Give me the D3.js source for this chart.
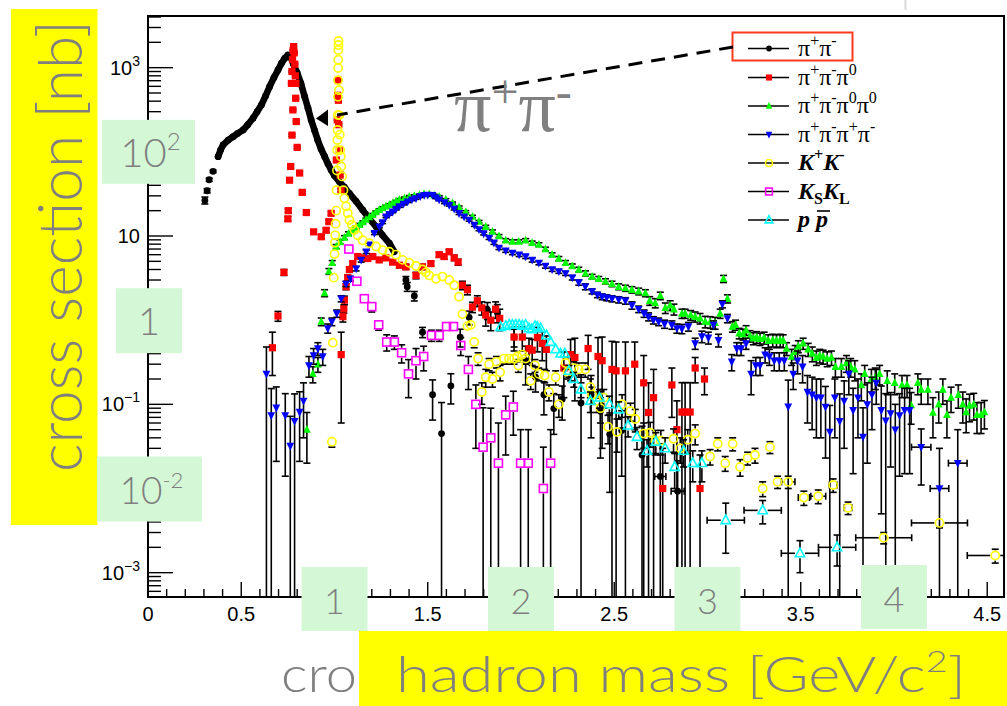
<!DOCTYPE html>
<html>
<head>
<meta charset="utf-8">
<script src="https://cdn.jsdelivr.net/npm/d3@7"></script>
<style>
  body { margin: 0; background: #fff; }
  svg { display: block; }
</style>
</head>
<body>
<svg id="chart" width="1007" height="706"></svg>
<script>
// ---- e+e- -> hadrons cross sections vs hadron mass ----
// rows: [mass GeV/c^2, sigma nb, sigma error nb, optional half bin width]

// pi+ pi- : densely measured rho region (drawn as a thick band of points)
const pipiLow = [[0.305,26.5,2.5],[0.317,34.5,2],[0.328,46.6,2],[0.349,58.6,2]];
const pipiCurve = [[0.376,87.6],[0.389,105],[0.403,121],[0.43,138],[0.456,151],[0.48,165],[0.51,182],[0.535,210],
  [0.563,251],[0.585,300],[0.608,360],[0.63,460],[0.652,594],[0.675,760],[0.697,940],[0.715,1120],[0.733,1290],
  [0.75,1413],[0.765,1330],[0.78,1100],[0.80,865],[0.82,650],[0.84,453],[0.858,330],[0.875,239],[0.893,180],
  [0.91,138],[0.928,108],[0.947,88],[0.965,72],[0.982,61],[1.0,52],[1.027,44],[1.053,38],[1.08,32],[1.115,26],
  [1.151,20.4],[1.187,16],[1.223,12.9],[1.258,10.2],[1.294,8.2],[1.32,6.5]];
const pipi = [[1.383,3.0,0.3],[1.39,2.5,0.3],[1.428,1.94,0.25],[1.472,0.72,0.1],[1.526,0.13,0.065],[1.574,0.045,0.06],
  [1.624,0.166,0.065],[1.674,0.63,0.15],[1.722,1.08,0.2],[1.82,1.32,0.3],[1.873,1.23,0.3],[1.963,0.63,0.15],
  [2.025,0.33,0.16],[2.078,0.21,0.07],[2.123,0.13,0.055],[2.176,0.089,0.045],[2.221,0.115,0.05],[2.322,0.104,0.12],
  [2.376,0.13,0.09],[2.426,0.083,0.06],[2.476,0.044,0.035],[2.54,0.049,0.035],[2.649,0.025,0.03],
  [2.747,0.0139,0.02,0.03],[2.84,0.0093,0.012,0.035]];

// pi+ pi- pi0
const pi3 = [[0.667,0.47,0.25],[0.697,1.12,0.15],[0.729,3.7,0.3],
  [0.750,16,1],[0.752,20,1],[0.759,46,2],[0.765,67,3],[0.772,158,5],[0.777,315,8],
  [0.769,650,15],[0.772,900,20],[0.775,1250,25],[0.778,1600,30],[0.781,1780,35],[0.784,1500,30],
  [0.787,1100,25],[0.790,800,20],[0.793,650,15],[0.792,433,10],[0.795,229,6],[0.80,113,4],[0.813,56,2],
  [0.827,33,1.5],[0.849,19,1],[0.888,11.2,0.6],[0.929,9.8,0.5],[0.955,11.7,0.6],[0.97,14.8,0.7],[0.982,18.6,0.8],
  [1.010,80,3],[1.015,240,6],[1.017,470,10],[1.019,710,15],[1.021,410,10],[1.023,210,6],[1.026,105,4],
  [1.03,53,2],[1.035,35,1.5],[1.036,0.39,0.33],
  [1.045,1.1,0.15],[1.05,1.36,0.15],[1.053,1.73,0.2],[1.062,2.5,0.2],[1.071,3.2,0.25],[1.08,4.0,0.3],
  [1.098,4.7,0.3],[1.125,5.7,0.3],[1.151,5.5,0.3],[1.178,5.4,0.3],[1.205,5.7,0.3],[1.24,5.2,0.3],
  [1.276,5.5,0.3],[1.312,4.9,0.3],[1.348,4.5,0.3],[1.383,4.3,0.3],[1.437,3.4,0.3],[1.472,4.3,0.3],
  [1.517,4.7,0.3],[1.561,6.0,0.4],[1.588,5.7,0.4],[1.615,6.5,0.4],[1.642,5.5,0.4],[1.663,4.9,0.4],
  [1.686,2.6,0.3],[1.713,2.3,0.3],[1.74,1.43,0.2],[1.766,1.7,0.25],[1.79,1.4,0.25],[1.811,1.15,0.3],
  [1.838,1.0,0.25],[1.864,1.35,0.3],[1.886,1.05,0.3],[1.963,0.63,0.2],[2.007,0.63,0.2],[2.043,0.46,0.15],
  [2.06,0.44,0.15],[2.088,0.62,0.2],[2.114,0.53,0.2],[2.136,0.45,0.2],[2.23,0.27,0.15],[2.266,0.39,0.2],
  [2.289,0.36,0.25],[2.36,0.46,0.2],[2.413,0.37,0.25],[2.435,0.33,0.3],[2.488,0.26,0.3],[2.51,0.25,0.3],
  [2.56,0.25,0.3],[2.61,0.3,0.25],[2.658,0.18,0.2],[2.684,0.08,0.1],[2.711,0.12,0.14],[2.76,0.01,0.02],
  [2.809,0.17,0.1],[2.836,0.05,0.06],[2.863,0.081,0.1],[2.88,0.081,0.1],[2.907,0.081,0.1],[2.934,0.27,0.09],
  [2.96,0.01,0.015],[2.984,0.2,0.07]];

// pi+ pi- pi0 pi0
const pi4n = [[0.852,0.05,0.03],[0.884,0.23,0.05],[0.911,0.30,0.06],[0.929,0.96,0.1],[0.947,2.1,0.2],[0.97,3.8,0.3],
  [0.988,4.8,0.3],[1.009,7.5,0.4],[1.03,8.5,0.4],[1.053,9.6,0.5],[1.075,10.7,0.5],[1.098,11.8,0.5],[1.116,12.7,0.5],
  [1.134,13.6,0.5],[1.152,14.6,0.5],[1.169,15.7,0.6],[1.187,16.8,0.6],[1.205,17.9,0.6],[1.222,19.2,0.6],
  [1.24,20.5,0.6],[1.258,21.5,0.7],[1.276,22.5,0.7],[1.294,23.5,0.7],[1.312,24.6,0.7],[1.33,25.8,0.7],
  [1.348,27,0.8],[1.375,28.2,0.8],[1.401,29.4,0.8],[1.428,30,0.8],[1.455,30.6,0.8],[1.48,31.6,0.8],
  [1.508,31.5,0.8],[1.535,30.5,0.8],[1.561,29.4,0.8],[1.597,27,0.8],[1.633,24.6,0.7],[1.668,22,0.7],
  [1.704,19.4,0.6],[1.74,17,0.6],[1.775,14.8,0.5],[1.811,12.9,0.5],[1.847,11.3,0.5],[1.882,10,0.4],
  [1.918,8.9,0.4],[1.954,8.6,0.4],[1.989,8.6,0.4],[2.025,8.9,0.4],[2.06,8.3,0.4],[2.096,7.9,0.4],[2.131,7,0.35],
  [2.167,6.0,0.3],[2.203,5.4,0.3],[2.239,4.8,0.3],[2.275,4.4,0.25],[2.31,4.0,0.25],[2.346,3.6,0.25],
  [2.381,3.3,0.2],[2.417,3.1,0.2],[2.453,2.9,0.2],[2.488,2.7,0.2],[2.524,2.5,0.2],[2.56,2.4,0.2],[2.595,2.3,0.2],
  [2.631,2.2,0.2],[2.667,2.1,0.2],[2.69,1.7,0.2],[2.72,1.6,0.2],[2.747,1.95,0.2],[2.774,1.4,0.2],[2.80,1.5,0.2],
  [2.82,1.35,0.2],[2.863,1.2,0.15],[2.88,1.2,0.15],[2.91,1.15,0.15],[2.934,1.1,0.15],[2.96,1.05,0.15],
  [2.988,0.96,0.15],[3.015,0.95,0.15],[3.041,0.93,0.15],[3.068,1.2,0.15],[3.086,3.1,0.3],[3.107,1.8,0.2],
  [3.134,0.84,0.12],[3.15,0.88,0.12],[3.17,0.7,0.1],[3.19,0.68,0.1],[3.207,0.76,0.1],[3.228,0.65,0.1],
  [3.246,0.61,0.1],[3.264,0.63,0.1],[3.282,0.6,0.1],[3.304,0.62,0.1],[3.326,0.57,0.1],[3.35,0.58,0.1],
  [3.37,0.57,0.1],[3.39,0.58,0.1],[3.406,0.57,0.1],[3.424,0.46,0.08],[3.451,0.37,0.08],[3.47,0.42,0.08],
  [3.487,0.49,0.08],[3.513,0.53,0.08],[3.54,0.45,0.08],[3.562,0.40,0.08],[3.584,0.36,0.07],[3.602,0.38,0.07],
  [3.62,0.37,0.07],[3.642,0.35,0.07],[3.665,0.36,0.07],[3.686,0.28,0.07],[3.718,0.28,0.07],[3.745,0.31,0.07],
  [3.768,0.28,0.07],[3.79,0.26,0.07],[3.825,0.17,0.06],[3.843,0.23,0.06],[3.879,0.2,0.06],[3.9,0.21,0.06],
  [3.923,0.23,0.06],[3.964,0.19,0.06],[4.004,0.18,0.05],[4.043,0.17,0.05],[4.07,0.17,0.05],[4.092,0.098,0.04],
  [4.128,0.18,0.05],[4.146,0.15,0.05],[4.182,0.15,0.05],[4.209,0.08,0.04],[4.24,0.1,0.04],[4.262,0.15,0.05],
  [4.284,0.075,0.035],[4.306,0.12,0.04],[4.345,0.13,0.04],[4.369,0.1,0.04],[4.387,0.081,0.035],
  [4.405,0.097,0.035],[4.428,0.1,0.035],[4.445,0.075,0.03],[4.467,0.075,0.03],[4.485,0.081,0.03]];

// pi+ pi- pi+ pi-
const pi4c = [[0.635,0.23,0.25],[0.661,0.074,0.08],[0.688,0.091,0.07],[0.736,0.074,0.06],[0.763,0.032,0.04],
  [0.786,0.063,0.07],[0.813,0.081,0.06],[0.834,0.11,0.07],[0.863,0.29,0.08],[0.888,0.38,0.08],[0.911,0.46,0.08],
  [0.937,0.37,0.08],[0.964,0.8,0.1],[0.986,0.96,0.1],[1.012,1.2,0.12],[1.036,1.8,0.15],[1.062,2.7,0.2],
  [1.086,3.1,0.2],[1.116,4.1,0.25],[1.143,5.2,0.3],[1.17,6.5,0.3],[1.187,7.9,0.35],[1.214,10.8,0.4],
  [1.24,12.9,0.4],[1.258,14.5,0.45],[1.276,17,0.5],[1.294,18.2,0.5],[1.312,19.4,0.5],[1.33,21,0.6],
  [1.348,22.5,0.6],[1.37,24,0.6],[1.392,25.6,0.6],[1.415,27,0.7],[1.437,28,0.7],[1.46,29.5,0.7],
  [1.481,30.6,0.7],[1.5,30.8,0.7],[1.526,30.6,0.7],[1.545,28.5,0.7],[1.561,27,0.7],[1.59,25,0.7],
  [1.615,23.3,0.6],[1.642,21,0.6],[1.668,18.6,0.6],[1.695,17,0.5],[1.722,15.5,0.5],[1.75,13.5,0.5],
  [1.775,12,0.45],[1.8,10.7,0.4],[1.829,9.5,0.4],[1.855,8.3,0.35],[1.882,7.2,0.3],[1.918,6.7,0.3],
  [1.954,6.3,0.3],[1.99,6.0,0.3],[2.025,5.7,0.3],[2.06,5.2,0.3],[2.096,4.8,0.25],[2.131,4.4,0.25],
  [2.167,4.0,0.2],[2.203,3.8,0.2],[2.239,3.6,0.2],[2.275,3.2,0.2],[2.31,2.8,0.2],[2.345,2.5,0.2],
  [2.381,2.2,0.15],[2.41,2.0,0.15],[2.435,1.9,0.15],[2.46,1.85,0.15],[2.488,1.8,0.15],[2.524,1.75,0.15],
  [2.56,1.7,0.15],[2.595,1.5,0.15],[2.631,1.35,0.12],[2.66,1.2,0.12],[2.684,1.1,0.12],[2.71,1.0,0.1],
  [2.738,0.96,0.1],[2.77,0.9,0.1],[2.809,0.88,0.1],[2.836,0.8,0.1],[2.863,0.79,0.1],[2.898,0.84,0.1],
  [2.934,0.53,0.08],[2.97,0.64,0.1],[3.005,0.62,0.1],[3.032,0.88,0.1],[3.059,0.58,0.1],[3.08,1.55,0.15],
  [3.107,1.05,0.12],[3.13,0.32,0.07],[3.157,0.46,0.08],[3.18,0.46,0.08],[3.207,0.53,0.08],[3.234,0.23,0.1],
  [3.259,0.29,0.07],[3.282,0.29,0.07],[3.309,0.39,0.08],[3.332,0.37,0.08],[3.358,0.33,0.08],[3.385,0.33,0.08],
  [3.412,0.33,0.08],[3.433,0.094,0.1],[3.46,0.23,0.08],[3.483,0.33,0.1],[3.51,0.28,0.1],[3.536,0.14,0.08],
  [3.561,0.13,0.08],[3.584,0.12,0.08],[3.608,0.12,0.08],[3.633,0.093,0.07],[3.656,0.047,0.05],
  [3.683,0.12,0.08],[3.709,0.063,0.07],[3.733,0.11,0.08],[3.758,0.23,0.1],[3.781,0.085,0.07],
  [3.807,0.12,0.08],[3.834,0.041,0.05],[3.857,0.1,0.08],[3.882,0.13,0.08],[3.905,0.18,0.08],
  [3.932,0.085,0.08],[3.956,0.064,0.07],[3.982,0.078,0.06],[4.007,0.05,0.05],[4.03,0.074,0.06],
  [4.057,0.085,0.07],[4.084,0.085,0.07],[4.146,0.031,0.02,0.052],[4.244,0.01,0.02,0.05],[4.342,0.02,0.03,0.05]];

// K+ K-
const kk = [[0.986,0.036,0.005],[0.991,0.54,0.05],[0.996,3.2,0.2],[1.0,6.1,0.3],[1.002,8.3,0.4],[1.004,10.2,0.5],
  [1.006,14,0.6],[1.009,20,0.8],[1.011,35,1],[1.013,60,2],[1.0145,105,3],[1.0155,138,4],[1.0165,182,5],
  [1.0175,273,7],[1.0185,450,10],[1.019,710,15],[1.0195,990,20],[1.02,1240,25],[1.0205,1620,30],[1.021,1860,35],
  [1.0215,2075,40],[1.024,540,10],[1.026,273,7],[1.028,160,5],[1.031,105,3],[1.034,88,3],[1.036,67,2],
  [1.041,51,2],[1.048,35,1.5],[1.053,28,1],[1.062,22.5,1],[1.071,18.6,0.8],[1.08,15.5,0.7],[1.093,13.6,0.6],
  [1.107,11.8,0.5],[1.125,10.2,0.5],[1.151,8.9,0.4],[1.187,8.2,0.4],[1.223,7.5,0.4],[1.258,6.8,0.3],
  [1.294,6.5,0.3],[1.33,6.0,0.3],[1.365,5.2,0.3],[1.401,4.8,0.3],[1.437,4.4,0.3],[1.472,4.0,0.25],
  [1.49,3.7,0.25],[1.508,3.4,0.25],[1.544,3.1,0.2],[1.579,3.3,0.2],[1.615,3.0,0.2],[1.642,2.6,0.2],
  [1.668,1.9,0.15],[1.686,1.18,0.12],[1.713,0.85,0.1],[1.731,0.88,0.1],[1.749,0.55,0.08],[1.77,0.35,0.06],
  [1.79,0.14,0.04],[1.811,0.21,0.05],[1.829,0.3,0.05],[1.847,0.2,0.04],[1.868,0.32,0.05],[1.888,0.24,0.05],
  [1.909,0.35,0.05],[1.936,0.35,0.05],[1.963,0.35,0.05],[1.98,0.37,0.05],[1.986,0.29,0.05],[2.007,0.39,0.05],
  [2.025,0.35,0.05],[2.052,0.19,0.04],[2.075,0.29,0.05],[2.096,0.23,0.04],[2.127,0.22,0.04],[2.15,0.14,0.03],
  [2.186,0.21,0.04],[2.203,0.1,0.03],[2.239,0.31,0.05],[2.25,0.24,0.04],[2.283,0.27,0.05],[2.31,0.26,0.05],
  [2.345,0.26,0.05],[2.372,0.16,0.04],[2.381,0.13,0.03],[2.408,0.11,0.03],[2.426,0.09,0.03],[2.444,0.12,0.03],
  [2.467,0.054,0.02],[2.515,0.047,0.02],[2.542,0.1,0.03],[2.587,0.083,0.02],[2.613,0.067,0.02],
  [2.658,0.045,0.015],[2.693,0.046,0.015],[2.72,0.037,0.012],[2.75,0.037,0.012],[2.818,0.039,0.012],
  [2.854,0.03,0.01],[2.894,0.038,0.012],[2.934,0.045,0.012],[3.014,0.024,0.005],[3.055,0.034,0.006],
  [3.095,0.02,0.004],[3.135,0.034,0.006],[3.175,0.018,0.004],[3.215,0.023,0.004],[3.255,0.025,0.005],
  [3.296,0.01,0.002],[3.335,0.031,0.005],[3.376,0.012,0.002],[3.433,0.012,0.002,0.036],
  [3.517,0.0078,0.0015,0.03],[3.594,0.0081,0.0015,0.04],[3.674,0.011,0.002,0.02],[3.754,0.0059,0.001,0.02],
  [3.945,0.0026,0.0004,0.15],[4.244,0.0039,0.0005,0.15],[4.543,0.0016,0.0003,0.15]];

// K_S K_L
const kskl = [[1.077,7.0,0.5],[1.12,2.9,0.3],[1.16,1.8,0.15],[1.2,1.45,0.2],[1.237,0.88,0.12],[1.28,0.55,0.12],
  [1.321,0.55,0.1],[1.36,0.41,0.1],[1.397,0.23,0.11],[1.437,0.33,0.13],[1.478,0.37,0.12],[1.52,0.66,0.1],
  [1.561,0.66,0.1],[1.601,0.84,0.1],[1.638,0.84,0.1],[1.677,0.5,0.12],[1.718,0.26,0.11],[1.758,0.1,0.07],
  [1.797,0.031,0.06],[1.838,0.04,0.05],[1.879,0.02,0.04],[1.918,0.075,0.05],[1.959,0.093,0.05],
  [1.998,0.02,0.03],[2.039,0.02,0.03],[2.12,0.01,0.021],[2.159,0.02,0.03]];

// p pbar
const ppbar = [[1.891,0.83,0.06],[1.918,0.85,0.06],[1.937,0.88,0.06],[1.954,0.88,0.06],[1.972,0.88,0.06],
  [1.99,0.88,0.06],[2.007,0.86,0.06],[2.025,0.88,0.06],[2.043,0.8,0.06],[2.057,0.78,0.06],[2.075,0.85,0.06],
  [2.088,0.83,0.06],[2.105,0.8,0.06],[2.137,0.66,0.06],[2.159,0.55,0.05],[2.186,0.45,0.05],[2.212,0.4,0.05],
  [2.235,0.4,0.05],[2.257,0.25,0.04],[2.283,0.2,0.04],[2.322,0.15,0.03],[2.372,0.11,0.03],[2.421,0.12,0.03],
  [2.474,0.1,0.025],[2.524,0.087,0.02],[2.574,0.056,0.015],[2.622,0.041,0.012],[2.676,0.028,0.01],
  [2.723,0.036,0.01],[2.773,0.03,0.01],[2.824,0.018,0.008],[2.872,0.028,0.01],[2.921,0.02,0.008],
  [2.97,0.02,0.008],[3.098,0.0042,0.0025,0.1],[3.296,0.0055,0.0017,0.1],[3.496,0.0017,0.0007,0.1],
  [3.695,0.002,0.0008,0.1]];

// axis tick labels (1, 2, 3, 4 and 10^2, 1, 10^-2 sit in the highlight boxes)
const xTickValues = [0, 0.5, 1.5, 2.5, 3.5, 4.5];
const xTickLabels = ["0", "0.5", "1.5", "2.5", "3.5", "4.5"];
const yDecades = [-3, -1, 1, 3];
const boxedX = [["1",1],["2",2],["3",3],["4",4]];
const boxedY = [["10","2",2],["1",null,0],["10","-2",-2]];

// legend entries (rich text segments)
const legendEntries = [
  {key:"pipi", segs:[{t:"π"},{t:"+",sup:1},{t:"π"},{t:"-",sup:1}]},
  {key:"pi3", segs:[{t:"π"},{t:"+",sup:1},{t:"π"},{t:"-",sup:1},{t:"π"},{t:"0",sup:1}]},
  {key:"pi4n", segs:[{t:"π"},{t:"+",sup:1},{t:"π"},{t:"-",sup:1},{t:"π"},{t:"0",sup:1},{t:"π"},{t:"0",sup:1}]},
  {key:"pi4c", segs:[{t:"π"},{t:"+",sup:1},{t:"π"},{t:"-",sup:1},{t:"π"},{t:"+",sup:1},{t:"π"},{t:"-",sup:1}]},
  {key:"kk", segs:[{t:"K",bi:1},{t:"+",sup:1,b:1},{t:"K",bi:1},{t:"-",sup:1,b:1}]},
  {key:"kskl", segs:[{t:"K",bi:1},{t:"S",sub:1,b:1},{t:"K",bi:1},{t:"L",sub:1,b:1}]},
  {key:"ppbar", segs:[{t:"p",bi:1},{t:" ",bi:1},{t:"p",bi:1,bar:1}]}
];

// ---- layout and scales ----
const frame = {left:148, right:1004, top:16, bottom:597};
const x = d3.scaleLinear().domain([0, 4.59]).range([frame.left, frame.right]);
const y = d3.scaleLog().domain([5.14e-4, 4110]).range([frame.bottom, frame.top]);
const yMin = y.domain()[0];

const svg = d3.select("#chart");
svg.append("rect").attr("width",1007).attr("height",706).attr("fill","#fff");

const defs = svg.append("defs");
defs.append("clipPath").attr("id","plotClip")
  .append("rect").attr("x",frame.left).attr("y",frame.top)
  .attr("width",frame.right-frame.left).attr("height",frame.bottom-frame.top);

const sansAxis = "'Liberation Sans', Arial, Helvetica, sans-serif";
const serif = "'Liberation Serif', 'Times New Roman', serif";
const overlayFont = "Lato, 'Open Sans', 'DejaVu Sans', sans-serif";

// ---- axes ----
const axisG = svg.append("g").attr("stroke","#000").attr("fill","none");
// x ticks every 0.1, longer at 0.5
d3.range(0, 46).forEach(i => {
  const v = i/10;
  const major = i % 5 === 0;
  axisG.append("line").attr("x1",x(v)).attr("x2",x(v))
    .attr("y1",frame.bottom).attr("y2",frame.bottom-(major?15:8)).attr("stroke-width",1.4);
});
// y log ticks
for (let e = -4; e <= 3; e++) {
  for (let k = 1; k <= 9; k++) {
    const v = k*Math.pow(10,e);
    if (v < y.domain()[0] || v > y.domain()[1]) continue;
    axisG.append("line").attr("x1",frame.left).attr("x2",frame.left+(k===1?25:13))
      .attr("y1",y(v)).attr("y2",y(v)).attr("stroke-width",1.4);
  }
}
// frame
axisG.append("rect").attr("x",frame.left).attr("y",frame.top)
  .attr("width",frame.right-frame.left).attr("height",frame.bottom-frame.top).attr("stroke-width",2);

// x tick labels
const xl = svg.append("g").style("font-family",sansAxis).style("font-size","20px").attr("fill","#000");
xTickValues.forEach((v,i) => {
  xl.append("text").attr("x",x(v)).attr("y",621).attr("text-anchor","middle").text(xTickLabels[i]);
});
// y tick labels
const yl = svg.append("g").style("font-family",sansAxis).attr("fill","#000");
yDecades.forEach(e => {
  const t = yl.append("text").attr("x",140).attr("y",y(Math.pow(10,e))+7)
    .attr("text-anchor","end").style("font-size","20px");
  if (e === 1) t.text("10");
  else {
    t.append("tspan").text("10");
    t.append("tspan").attr("dy",-9).style("font-size","14px").text(e < 0 ? "\u2212" + (-e) : String(e));
  }
});

// ---- data layers ----
const plotG = svg.append("g").attr("clip-path","url(#plotClip)");

// error bars; the part hidden inside an open marker (radius gap) is skipped
function drawErrors(g, data, gap) {
  const eg = g.append("g").attr("stroke","#000").attr("stroke-width",1.6).attr("fill","none");
  const cap = 3.5;
  data.forEach(d => {
    const [m, v, e, xe] = d;
    const cx = x(m), cy = y(v);
    if (e) {
      const top = y(v + e);
      if (cy - top > gap) {
        eg.append("line").attr("x1",cx).attr("x2",cx).attr("y1",cy-gap).attr("y2",top);
        eg.append("line").attr("x1",cx-cap).attr("x2",cx+cap).attr("y1",top).attr("y2",top);
      }
      const lowOk = (v - e) > yMin;
      const bot = lowOk ? y(v - e) : frame.bottom;
      if (bot - cy > gap) {
        eg.append("line").attr("x1",cx).attr("x2",cx).attr("y1",cy+gap).attr("y2",bot);
        if (lowOk) eg.append("line").attr("x1",cx-cap).attr("x2",cx+cap).attr("y1",bot).attr("y2",bot);
      }
    }
    if (xe) {
      const l = x(m - xe), r = x(m + xe);
      eg.append("line").attr("x1",l).attr("x2",cx-gap).attr("y1",cy).attr("y2",cy);
      eg.append("line").attr("x1",cx+gap).attr("x2",r).attr("y1",cy).attr("y2",cy);
      eg.append("line").attr("x1",l).attr("x2",l).attr("y1",cy-cap).attr("y2",cy+cap);
      eg.append("line").attr("x1",r).attr("x2",r).attr("y1",cy-cap).attr("y2",cy+cap);
    }
  });
}

// marker painters
const markers = {
  pipi: (g, cx, cy, s=1) => g.append("circle").attr("cx",cx).attr("cy",cy).attr("r",3.4*s).attr("fill","#000"),
  pi3: (g, cx, cy, s=1) => g.append("rect").attr("x",cx-3.6*s).attr("y",cy-3.6*s).attr("width",7.2*s).attr("height",7.2*s).attr("fill","#ff0000"),
  pi4n: (g, cx, cy, s=1) => g.append("path")
    .attr("d",`M${cx},${cy-4.6*s}L${cx+3.9*s},${cy+3.2*s}L${cx-3.9*s},${cy+3.2*s}Z`).attr("fill","#00ff00"),
  pi4c: (g, cx, cy, s=1) => g.append("path")
    .attr("d",`M${cx},${cy+4.6*s}L${cx+3.9*s},${cy-3.2*s}L${cx-3.9*s},${cy-3.2*s}Z`).attr("fill","#0000ff"),
  kk: (g, cx, cy, s=1) => g.append("circle").attr("cx",cx).attr("cy",cy).attr("r",4.1*s)
    .attr("fill","none").attr("stroke","#ffff00").attr("stroke-width",1.6),
  kskl: (g, cx, cy, s=1) => g.append("rect").attr("x",cx-4*s).attr("y",cy-4*s).attr("width",8*s).attr("height",8*s)
    .attr("fill","none").attr("stroke","#ff00ff").attr("stroke-width",1.6),
  ppbar: (g, cx, cy, s=1) => g.append("path")
    .attr("d",`M${cx},${cy-5.2*s}L${cx+4.6*s},${cy+3.4*s}L${cx-4.6*s},${cy+3.4*s}Z`)
    .attr("fill","none").attr("stroke","#00ffff").attr("stroke-width",1.6)
};
const openGap = {kk:5, kskl:5, ppbar:5};

function drawSeries(data, key) {
  const g = plotG.append("g");
  drawErrors(g, data, openGap[key] || 0);
  const mg = g.append("g");
  data.forEach(d => markers[key](mg, x(d[0]), y(d[1])));
}

// pi+ pi- : thick band through the dense rho points, then the sparse points
{
  const g = plotG.append("g");
  drawErrors(g, pipiLow, 0);
  g.append("path").datum(pipiCurve)
    .attr("d", d3.line().x(d => x(d[0])).y(d => y(d[1])).curve(d3.curveLinear))
    .attr("fill","none").attr("stroke","#000").attr("stroke-width",6.6)
    .attr("stroke-linejoin","round").attr("stroke-linecap","round");
  pipiLow.concat(pipiCurve).forEach(d => markers.pipi(g, x(d[0]), y(d[1])));
}
drawSeries(pipi, "pipi");
drawSeries(pi3, "pi3");
drawSeries(pi4n, "pi4n");
drawSeries(pi4c, "pi4c");
drawSeries(kk, "kk");
drawSeries(kskl, "kskl");
drawSeries(ppbar, "ppbar");

// ---- legend ----
function richText(g, x0, y0, segs, o) {
  const t = g.append("text").attr("x",x0).attr("y",y0)
    .style("font-family",o.family).style("font-size",o.size+"px").attr("fill",o.fill||"#000");
  let cur = 0;
  const spans = [];
  segs.forEach(s => {
    const shift = s.sup ? -o.supShift : (s.sub ? o.subShift : 0);
    const sp = t.append("tspan").attr("dy", shift - cur)
      .style("font-size", (s.sup || s.sub ? o.small : o.size) + "px")
      .text(s.t);
    if (s.bi) sp.style("font-style","italic").style("font-weight","bold");
    if (s.b) sp.style("font-weight","bold");
    spans.push({seg:s, node:sp.node()});
    cur = shift;
  });
  return {text:t, spans};
}

const legendY = [48.5, 77.5, 106, 134.5, 163, 191.5, 220];
const lg = svg.append("g");
legendEntries.forEach((entry, i) => {
  const ly = legendY[i];
  lg.append("line").attr("x1",748).attr("x2",789).attr("y1",ly).attr("y2",ly)
    .attr("stroke","#000").attr("stroke-width",1.5);
  markers[entry.key](lg, 769, ly, 0.85);
  const rt = richText(lg, 798, ly + 7, entry.segs,
    {family:serif, size:24, small:16, supShift:10, subShift:5});
  rt.spans.forEach(sp => {
    if (sp.seg.bar) {
      const bb = sp.node.getBBox();
      lg.append("line").attr("x1",bb.x+3).attr("x2",bb.x+bb.width+2)
        .attr("y1",ly-9).attr("y2",ly-9).attr("stroke","#000").attr("stroke-width",1.6);
    }
  });
});
// highlight box around the pi+pi- entry
lg.append("rect").attr("x",732.5).attr("y",32.5).attr("width",120).attr("height",28)
  .attr("fill","none").attr("stroke","#ff3b1e").attr("stroke-width",2);

// dashed pointer from the legend entry to the pi+pi- band
const pStart = [733, 47], pEnd = [337, 115];
svg.append("line").attr("x1",pStart[0]).attr("y1",pStart[1]).attr("x2",pEnd[0]).attr("y2",pEnd[1])
  .attr("stroke","#000").attr("stroke-width",3).attr("stroke-dasharray","14 9");
svg.append("path").attr("d","M316,118.5L328,109.5L328,126Z").attr("fill","#000");

// big annotation
richText(svg, 454, 131, [{t:"π"},{t:"+",sup:1},{t:"π"},{t:"-",sup:1}],
  {family:serif, size:74, small:48, supShift:23, subShift:0, fill:"#808080"});

// faint stray rule at the top edge
svg.append("line").attr("x1",905.5).attr("x2",905.5).attr("y1",0).attr("y2",10)
  .attr("stroke","#d8d8d8").attr("stroke-width",2);

// ---- slide overlays ----
const ov = svg.append("g");
const gray = "#7f7f7f";
const mint = "#d4f8d6";
const yellow = "#ffff00";

// leftover of an older title, cut off by the yellow banner
ov.append("text").attr("x",281).attr("y",692).style("font-family",overlayFont).style("font-weight",300)
  .style("font-size","49px").attr("fill",gray)
  .attr("textLength",76).attr("lengthAdjust","spacingAndGlyphs").text("cro");

// left banner with the rotated y title
ov.append("rect").attr("x",11).attr("y",9).attr("width",86.5).attr("height",516).attr("fill",yellow);
ov.append("text").attr("transform","translate(82,472) rotate(-90)")
  .style("font-family",overlayFont).style("font-weight",300).style("font-size","62px")
  .attr("fill",gray).attr("textLength",452).attr("lengthAdjust","spacingAndGlyphs")
  .text("cross section [nb]");

// bottom banner with the x title
ov.append("rect").attr("x",359).attr("y",631).attr("width",648).attr("height",75).attr("fill",yellow);
{
  const t = ov.append("text").attr("x",396).attr("y",692)
    .style("font-family",overlayFont).style("font-weight",300).style("font-size","49px").attr("fill",gray)
    .attr("textLength",570).attr("lengthAdjust","spacingAndGlyphs");
  t.append("tspan").text("hadron mass [GeV/c");
  t.append("tspan").attr("dy",-20).style("font-size","30px").text("2");
  t.append("tspan").attr("dy",20).text("]");
}

// tick-label boxes
function box(x0, y0, w, h) {
  ov.append("rect").attr("x",x0).attr("y",y0).attr("width",w).attr("height",h).attr("fill",mint);
}
function boxLabel(cx, by, base, sup, size) {
  const t = ov.append("text").attr("x",cx).attr("y",by).attr("text-anchor","middle")
    .style("font-family",overlayFont).style("font-weight",300).style("font-size",size+"px").attr("fill",gray);
  t.append("tspan").text(base);
  if (sup) t.append("tspan").attr("dy",-size*0.42).style("font-size",(size*0.6)+"px").text(sup);
}
// y boxes, centred on their decade
const yBoxes = [{x0:102, w:93, h:64, size:40}, {x0:116, w:66, h:65, size:38}, {x0:97, w:105, h:65, size:37}];
boxedY.forEach((b, i) => {
  const o = yBoxes[i];
  const cy = y(Math.pow(10, b[2]));
  box(o.x0, cy - 32, o.w, o.h);
  boxLabel(o.x0 + o.w/2 + (b[1] ? 2 : 0), cy + 15, b[0], b[1], o.size);
});
// x boxes, centred on their tick
boxedX.forEach(b => {
  const cx = x(b[1]);
  const top = b[1] === 4 ? 565 : 567;
  box(cx - 33, top, 66, 64);
  boxLabel(cx, top + 47, b[0], null, 36);
});
</script>
</body>
</html>
